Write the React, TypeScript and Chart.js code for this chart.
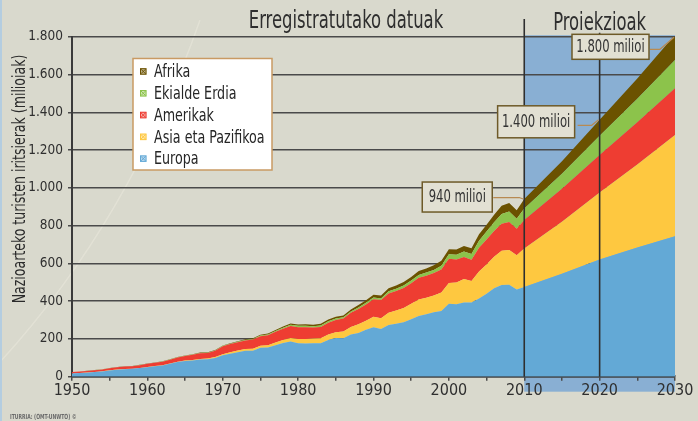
import React, { useEffect, useRef } from 'react';
import { Chart, registerables } from 'chart.js';

Chart.register(...registerables);

const years = [
  1950, 1951, 1952, 1953, 1954, 1955, 1956, 1957, 1958, 1959,
  1960, 1961, 1962, 1963, 1964, 1965, 1966, 1967, 1968, 1969,
  1970, 1971, 1972, 1973, 1974, 1975, 1976, 1977, 1978, 1979,
  1980, 1981, 1982, 1983, 1984, 1985, 1986, 1987, 1988, 1989,
  1990, 1991, 1992, 1993, 1994, 1995, 1996, 1997, 1998, 1999,
  2000, 2001, 2002, 2003, 2004, 2005, 2006, 2007, 2008, 2009,
  2010, 2015, 2020, 2025, 2030,
];

const europa = [
  16.8, 19, 21.5, 24.5, 28, 33, 37, 40, 41.5, 45.5,
  50.4, 55, 59.5, 68, 77.5, 83.7, 86, 91, 92, 99,
  113, 122, 130, 137, 137, 153.9, 155, 167, 178, 186,
  177.3, 176, 177, 177.5, 194, 204.3, 204, 223, 232, 249,
  261.5, 253, 274, 280, 288, 304.1, 321, 330, 341, 348,
  385.6, 384, 393, 393, 414, 439.4, 468, 485, 487, 461.5,
  475.3, 545, 620, 684, 744,
];

const asiaPazifikoa = [
  0.2, 0.25, 0.3, 0.35, 0.4, 0.6, 0.7, 0.8, 0.8, 0.9,
  0.9, 1.1, 1.4, 1.8, 2.2, 2.1, 2.6, 3.3, 4, 5,
  6.2, 7, 8.2, 9.5, 10.5, 10.2, 11.5, 13.5, 16, 18.5,
  22.8, 24, 25, 26, 29, 31, 35, 40, 46, 47,
  55.8, 57, 64, 71, 76, 82, 88, 88, 88.5, 98,
  110.1, 115, 124, 113, 143, 154, 167, 182, 184, 181,
  204, 275, 355, 440, 535,
];

const amerikak = [
  7.5, 8, 8.4, 9.3, 10, 11, 12, 12.7, 13, 14.7,
  16.7, 17.5, 18.5, 20.5, 21.5, 23.5, 27, 30, 29.5, 33,
  42.3, 43.5, 44, 45.5, 49, 49.9, 53, 57, 60, 64,
  62.3, 62, 58, 60, 63, 65.1, 69, 75, 80, 86,
  92.8, 96, 103, 103, 106, 109, 115, 117, 119, 122,
  128.2, 122, 116.7, 113, 125.7, 133.3, 135.8, 142.9, 147.8, 140.6,
  150.7, 175, 199, 223, 248,
];

const ekialdeErdia = [
  0.2, 0.25, 0.3, 0.35, 0.4, 0.5, 0.55, 0.6, 0.65, 0.7,
  0.6, 0.7, 0.8, 1, 1.2, 1.4, 1.5, 1.6, 1.6, 1.8,
  1.9, 2.2, 2.5, 2.8, 3.2, 3.5, 4, 4.8, 5.5, 6.2,
  7.1, 7.5, 7.5, 7.8, 8, 7.5, 7.2, 7.8, 8.5, 9,
  9.6, 8.5, 11, 12, 13, 13.7, 15, 16, 17, 20,
  24.1, 24.5, 29, 30, 37.5, 41.9, 46.9, 51.7, 55.6, 52.7,
  60.9, 80, 101, 124, 149,
];

const afrika = [
  0.5, 0.55, 0.6, 0.65, 0.7, 0.75, 0.8, 0.85, 0.9, 0.9,
  0.75, 0.9, 1.1, 1.3, 1.6, 1.8, 2, 2.1, 2.2, 2.3,
  2.4, 2.8, 3.2, 3.6, 3.9, 4.7, 5, 5.5, 6, 6.5,
  7.2, 8, 8, 8.5, 9, 9.7, 9.3, 10, 12.5, 13.8,
  14.7, 15, 16.5, 17, 18, 18.8, 20.5, 21.5, 24, 25.5,
  26.2, 28.4, 29.5, 31.6, 33.3, 35.4, 39.5, 43.2, 44.6, 45.9,
  49.7, 66, 85, 108, 134,
];

const seriesLabels = ['Europa', 'Asia eta Pazifikoa', 'Amerikak', 'Ekialde Erdia', 'Afrika'];
const seriesColors = ['#63a9d6', '#fec840', '#ee3d32', '#8cc34b', '#6b5200'];
const yTickValues = [0, 200, 400, 600, 800, 1000, 1200, 1400, 1600, 1800];
const annotationYears = [2010, 2020, 2030];
const annotationLabels = ['940 milioi', '1.400 milioi', '1.800 milioi'];
const titleRecorded = 'Erregistratutako datuak';
const titleProjection = 'Proiekzioak';
const yAxisTitle = 'Nazioarteko turisten iritsierak (milioiak)';
const sourceText = 'ITURRIA: (OMT-UNWTO) ©';

const FONT = "'DejaVu Sans Condensed', 'DejaVu Sans', sans-serif";
const BG = '#d9d9cd';
const GRID = '#4a4a4a';

const fmtThousands = (v: number) =>
  v >= 1000 ? `${Math.floor(v / 1000)}.${String(v % 1000).padStart(3, '0')}` : String(v);

const totalAt = (year: number) => {
  const i = years.indexOf(year);
  return europa[i] + asiaPazifikoa[i] + amerikak[i] + ekialdeErdia[i] + afrika[i];
};

// draw horizontally-condensed text
const narrowText = (
  ctx: CanvasRenderingContext2D,
  text: string,
  x: number,
  y: number,
  sx: number,
  font: string,
  color: string,
  align: CanvasTextAlign,
  baseline: CanvasTextBaseline,
) => {
  ctx.save();
  ctx.translate(x, y);
  ctx.scale(sx, 1);
  ctx.font = font;
  ctx.fillStyle = color;
  ctx.textAlign = align;
  ctx.textBaseline = baseline;
  ctx.fillText(text, 0, 0);
  ctx.restore();
};

const decorPlugin = {
  id: 'decor',
  beforeDraw(chart: any) {
    const { ctx, chartArea, scales } = chart;
    const x = scales.x, y = scales.y;
    ctx.save();
    ctx.fillStyle = BG;
    ctx.fillRect(0, 0, chart.width, chart.height);
    ctx.strokeStyle = 'rgba(236,234,222,0.5)';
    ctx.lineWidth = 1.5;
    ctx.beginPath();
    ctx.moveTo(0, 362);
    ctx.quadraticCurveTo(130, 220, 200, 20);
    ctx.stroke();
    ctx.fillStyle = '#b4cde0';
    ctx.fillRect(0, 0, 2, 421);
    // projection region
    const x0 = x.getPixelForValue(2010);
    const x1 = x.getPixelForValue(2030);
    const yTop = y.getPixelForValue(1800) - 1.5;
    ctx.fillStyle = '#89afd3';
    ctx.fillRect(x0, yTop, x1 - x0, chartArea.bottom + 15 - yTop);
    ctx.restore();
  },
  afterDatasetsDraw(chart: any) {
    const { ctx, chartArea, scales } = chart;
    const x = scales.x, y = scales.y;
    ctx.save();
    // vertical separators
    ctx.strokeStyle = '#2f2f2f';
    ctx.lineWidth = 1.6;
    const x2010 = x.getPixelForValue(2010);
    const x2020 = x.getPixelForValue(2020);
    ctx.beginPath();
    ctx.moveTo(x2010, 19);
    ctx.lineTo(x2010, chartArea.bottom);
    ctx.moveTo(x2020, chartArea.top - 4);
    ctx.lineTo(x2020, chartArea.bottom);
    ctx.stroke();

    // titles
    narrowText(ctx, titleRecorded, 346, 28, 0.73, `25px ${FONT}`, '#2e2e2e', 'center', 'alphabetic');
    narrowText(ctx, titleProjection, x2020, 29.5, 0.73, `25px ${FONT}`, '#2e2e2e', 'center', 'alphabetic');

    // annotations
    const boxSpecs = [
      { right: -32, top: -17, w: 70, h: 30, lx0: 1, ly: -1.5, lx1: -5, ey: 0 },
      { right: -25, top: -14, w: 77, h: 32, lx0: 3, ly: 5.5, lx1: -8, ey: 0 },
      { right: -26, top: -0.5, w: 77, h: 25, lx0: 1, ly: 14.5, lx1: -15, ey: 2.5 },
    ];
    annotationYears.forEach((yr, i) => {
      const px = x.getPixelForValue(yr);
      const py = y.getPixelForValue(totalAt(yr));
      const s = boxSpecs[i];
      const bx = px + s.right - s.w;
      const by = py + s.top;
      ctx.strokeStyle = '#b88a52';
      ctx.lineWidth = 1.2;
      ctx.beginPath();
      ctx.moveTo(px + s.right + s.lx0, py + s.ly);
      ctx.lineTo(px + s.lx1, py + s.ly);
      ctx.lineTo(px - 1, py + s.ey);
      ctx.stroke();
      ctx.fillStyle = '#e2e0d3';
      ctx.fillRect(bx, by, s.w, s.h);
      ctx.strokeStyle = '#6e5a28';
      ctx.lineWidth = 1.5;
      ctx.strokeRect(bx, by, s.w, s.h);
      narrowText(ctx, annotationLabels[i], bx + s.w / 2, by + s.h / 2 + 1, 0.76, `17px ${FONT}`, '#333', 'center', 'middle');
    });

    // legend
    const lx = 133, ly = 58.5, lw = 139, lh = 111.5;
    ctx.fillStyle = '#ffffff';
    ctx.fillRect(lx, ly, lw, lh);
    ctx.strokeStyle = '#c99a63';
    ctx.lineWidth = 1.5;
    ctx.strokeRect(lx, ly, lw, lh);
    const ds = chart.data.datasets;
    for (let k = 0; k < ds.length; k++) {
      const d = ds[ds.length - 1 - k];
      const cy = 71.7 + k * 21.8;
      const col = d.backgroundColor as string;
      const ix = 140, iy = cy - 3.5, isz = 6.5;
      ctx.globalAlpha = 0.45;
      ctx.fillStyle = col;
      ctx.fillRect(ix, iy, isz, isz);
      ctx.globalAlpha = 1;
      ctx.strokeStyle = col;
      ctx.lineWidth = 1;
      ctx.strokeRect(ix + 0.5, iy + 0.5, isz - 1, isz - 1);
      ctx.beginPath();
      ctx.moveTo(ix + 1, iy + 1);
      ctx.lineTo(ix + isz - 1, iy + isz - 1);
      ctx.moveTo(ix + isz - 1, iy + 1);
      ctx.lineTo(ix + 1, iy + isz - 1);
      ctx.stroke();
      narrowText(ctx, d.label, 154, cy + 1, 0.83, `17px ${FONT}`, '#262626', 'left', 'middle');
    }

    // y-axis title
    ctx.save();
    ctx.translate(21, 179);
    ctx.rotate(-Math.PI / 2);
    narrowText(ctx, yAxisTitle, 0, 0, 0.82, `17px ${FONT}`, '#2a2a2a', 'center', 'middle');
    ctx.restore();

    // source
    narrowText(ctx, sourceText, 10, 417, 0.72, `bold 7px ${FONT}`, '#6a6a6a', 'left', 'middle');
    ctx.restore();
  },
};

export default function App() {
  const canvasRef = useRef<HTMLCanvasElement | null>(null);

  useEffect(() => {
    if (!canvasRef.current) return;
    const seriesValues = [europa, asiaPazifikoa, amerikak, ekialdeErdia, afrika];
    const datasets = seriesValues.map((vals, i) => ({
      label: seriesLabels[i],
      data: vals.map((v, j) => ({ x: years[j], y: v })),
      backgroundColor: seriesColors[i],
      borderColor: seriesColors[i],
      borderWidth: 0,
      pointRadius: 0,
      fill: i === 0 ? 'origin' : '-1',
      tension: 0,
    }));

    const chart = new Chart(canvasRef.current, {
      type: 'line',
      data: { datasets },
      plugins: [decorPlugin],
      options: {
        animation: false,
        responsive: false,
        devicePixelRatio: 1,
        layout: { padding: { left: 0, right: 23, top: 36.7, bottom: 0 } },
        plugins: { legend: { display: false }, tooltip: { enabled: false } },
        scales: {
          x: {
            type: 'linear',
            min: 1950,
            max: 2030,
            afterFit: (s: any) => { s.height = 44.3; },
            ticks: {
              stepSize: 5,
              autoSkip: false,
              maxRotation: 0,
              padding: 1,
              color: '#2f2f2f',
              font: { family: FONT, size: 16 },
              callback: (v: any) => (Number(v) % 10 === 0 ? String(v) : ''),
            },
            grid: {
              drawOnChartArea: false,
              drawTicks: true,
              tickLength: 4,
              color: GRID,
              lineWidth: 1.5,
            },
            border: { color: '#3a3a3a', width: 2.5 },
          },
          y: {
            type: 'linear',
            stacked: true,
            min: 0,
            max: 1800,
            afterFit: (s: any) => { s.width = 72; },
            afterBuildTicks: (s: any) => { s.ticks = yTickValues.map((v) => ({ value: v })); },
            ticks: {
              padding: 5,
              color: '#2f2f2f',
              font: { family: FONT, size: 13.5 },
              callback: (v: any) => fmtThousands(Number(v)),
            },
            grid: {
              color: GRID,
              lineWidth: 1.5,
              tickLength: 4,
              drawTicks: true,
            },
            border: { color: '#3a3a3a', width: 2 },
          },
        },
      },
    });
    return () => chart.destroy();
  }, []);

  return (
    <div style={{ position: 'fixed', left: 0, top: 0, width: 698, height: 421, background: BG }}>
      <canvas ref={canvasRef} width={698} height={421} style={{ display: 'block' }} />
    </div>
  );
}
